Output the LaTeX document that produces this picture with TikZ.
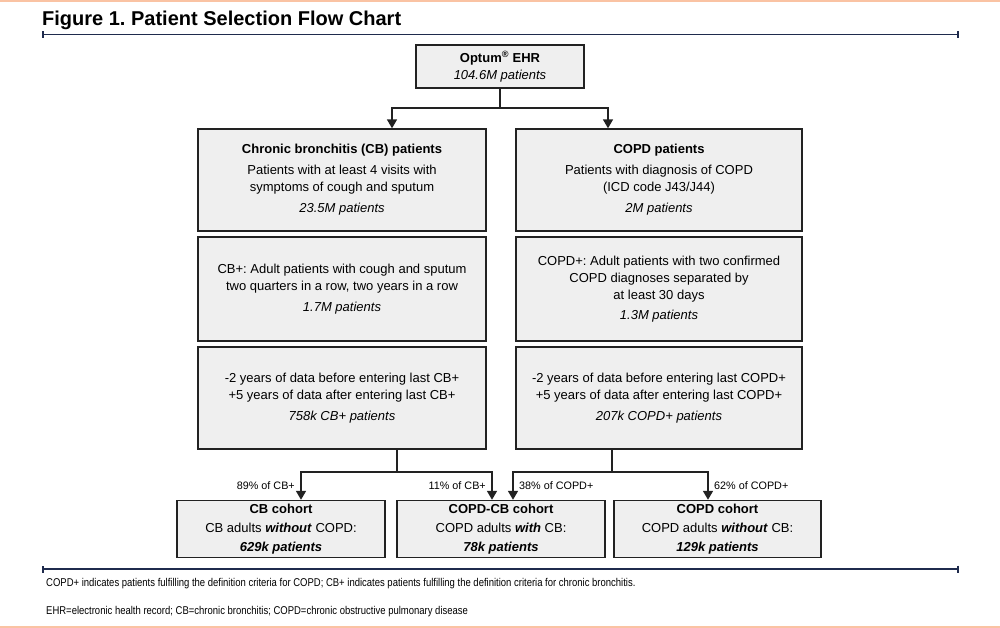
\documentclass[tikz,border=0pt]{standalone}
\usepackage{fontspec}
\setmainfont{Liberation Sans}
\newfontfamily\narrowfont[FakeStretch=0.84]{Liberation Sans}
\usetikzlibrary{arrows.meta}
\definecolor{boxfill}{HTML}{EFEFEF}
\definecolor{boxline}{HTML}{222222}
\definecolor{navy}{HTML}{1F2B4D}
\definecolor{salmon}{HTML}{FAC3A3}
\frenchspacing
\begin{document}
\begin{tikzpicture}[x=1pt,y=-1pt,
  box/.style={draw=boxline, line width=1.4pt, fill=boxfill, align=center, inner sep=0pt,
    font=\fontsize{13}{17}\selectfont},
  cohort/.style={box, minimum width=208pt, minimum height=57pt, font=\fontsize{13}{19}\selectfont},
  colbox/.style={box, minimum width=288pt},
  link/.style={line width=1.6pt, draw=boxline},
  arr/.style={link, -{Triangle[length=9pt,width=10pt]}},
  pct/.style={font=\fontsize{10.8}{12}\selectfont, inner sep=0pt},
  rule/.style={line width=1.8pt, draw=navy, {Bar[width=7pt]}-{Bar[width=7pt]}},
  foot/.style={font=\narrowfont\fontsize{11.3}{13}\selectfont, anchor=base west, inner sep=0pt}]
\useasboundingbox (0,0) rectangle (1000,628);
\fill[white] (0,0) rectangle (1000,628);
\draw[salmon, line width=2pt] (0,1) -- (1000,1);
\draw[salmon, line width=2pt] (0,627) -- (1000,627);

\node[anchor=base west, inner sep=0pt, font=\bfseries\fontsize{20}{22}\selectfont] (title) at (42,25.5) {Figure 1. Patient Selection Flow Chart};
\coordinate (r1a) at (42,34.5);
\coordinate (r1b) at (959,34.5);
\draw[rule] (r1a) -- (r1b);

\node[box, minimum width=168pt, minimum height=43pt] (optum) at (500,66.5)
  {{\bfseries Optum\textsuperscript{\textregistered} EHR}\\ \itshape 104.6M patients};

\node[colbox, minimum height=102pt] (cb1) at (342,180)
  {\textbf{Chronic bronchitis (CB) patients}\\[4pt] Patients with at least 4 visits with\\ symptoms of cough and sputum\\[4pt] \textit{23.5M patients}};
\node[colbox, minimum width=286pt, minimum height=102pt] (copd1) at (659,180)
  {\textbf{COPD patients}\\[4pt] Patients with diagnosis of COPD\\ (ICD code J43/J44)\\[4pt] \textit{2M patients}};

\node[colbox, minimum height=104pt] (cb2) at (342,289)
  {CB+: Adult patients with cough and sputum\\ two quarters in a row, two years in a row\\[4pt] \textit{1.7M patients}};
\node[colbox, minimum width=286pt, minimum height=104pt] (copd2) at (659,289)
  {COPD+: Adult patients with two confirmed\\ COPD diagnoses separated by\\ at least 30 days\\[3pt] \textit{1.3M patients}};

\node[colbox, minimum height=102pt] (cb3) at (342,398)
  {-2 years of data before entering last CB+\\ +5 years of data after entering last CB+\\[4pt] \textit{758k CB+ patients}};
\node[colbox, minimum width=286pt, minimum height=102pt] (copd3) at (659,398)
  {-2 years of data before entering last COPD+\\ +5 years of data after entering last COPD+\\[4pt] \textit{207k COPD+ patients}};

\node[cohort] (cbc) at (281,529)
  {\textbf{CB cohort}\\ CB adults \textbf{\textit{without}} COPD:\\ \textbf{\textit{629k patients}}};
\node[cohort] (mixc) at (501,529)
  {\textbf{COPD-CB cohort}\\ COPD adults \textbf{\textit{with}} CB:\\ \textbf{\textit{78k patients}}};
\node[cohort, minimum width=207pt] (copdc) at (717.5,529)
  {\textbf{COPD cohort}\\ COPD adults \textbf{\textit{without}} CB:\\ \textbf{\textit{129k patients}}};

% top split
\coordinate (j0) at (500,108);
\draw[link] (optum.south) -- (j0);
\draw[arr] (j0) -| ([xshift=50pt]cb1.north);
\draw[arr] (j0) -| ([xshift=-51pt]copd1.north);

% bottom splits
\coordinate (s1) at ([xshift=55pt]cb3.south);
\coordinate (j1) at (397,472);
\draw[link] (s1) -- (j1);
\draw[arr] (j1) -| ([xshift=20pt]cbc.north);
\draw[arr] (j1) -| ([xshift=-9pt]mixc.north);
\coordinate (s2) at ([xshift=-47pt]copd3.south);
\coordinate (j2) at (612,472);
\draw[link] (s2) -- (j2);
\draw[arr] (j2) -| ([xshift=12pt]mixc.north);
\draw[arr] (j2) -| ([xshift=-9.5pt]copdc.north);

\node[pct, anchor=east] (p1) at (295,486) {89\% of CB+};
\node[pct, anchor=east] (p2) at (486,486) {11\% of CB+};
\node[pct, anchor=west] (p3) at (519,486) {38\% of COPD+};
\node[pct, anchor=west] (p4) at (714,486) {62\% of COPD+};

\coordinate (r2a) at (42,569);
\coordinate (r2b) at (959,569);
\draw[rule] (r2a) -- (r2b);

\node[foot] (f1) at (46,586) {COPD+ indicates patients fulfilling the definition criteria for COPD; CB+ indicates patients fulfilling the definition criteria for chronic bronchitis.};
\node[foot] (f2) at (46,614) {EHR=electronic health record; CB=chronic bronchitis; COPD=chronic obstructive pulmonary disease};
\end{tikzpicture}
\end{document}
